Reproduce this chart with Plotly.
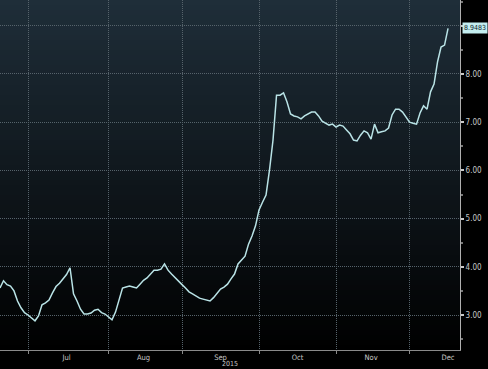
import pandas as pd
import plotly.graph_objects as go

dates = pd.bdate_range("2015-06-19", "2015-12-16")
values = [
    3.56, 3.71, 3.63, 3.60, 3.50, 3.29, 3.15, 3.05, 3.00, 2.94,
    2.88, 2.98, 3.21, 3.25, 3.31, 3.46, 3.59, 3.66, 3.75, 3.84,
    3.98, 3.44, 3.29, 3.12, 3.02, 3.02, 3.04, 3.10, 3.12, 3.05,
    3.02, 2.96, 2.90, 3.06, 3.31, 3.56, 3.58, 3.60, 3.58, 3.56,
    3.64, 3.72, 3.77, 3.85, 3.93, 3.93, 3.95, 4.06, 3.93, 3.85,
    3.77, 3.71, 3.63, 3.56, 3.48, 3.44, 3.39, 3.35, 3.33, 3.31,
    3.29, 3.36, 3.46, 3.54, 3.58, 3.64, 3.75, 3.85, 4.06, 4.14,
    4.22, 4.47, 4.64, 4.85, 5.18, 5.34, 5.49, 6.01, 6.63, 7.56,
    7.56, 7.61, 7.42, 7.17, 7.13, 7.11, 7.07, 7.13, 7.17, 7.21,
    7.21, 7.13, 7.02, 6.98, 6.94, 6.96, 6.90, 6.94, 6.92, 6.84,
    6.76, 6.63, 6.61, 6.73, 6.82, 6.78, 6.65, 6.96, 6.78, 6.80,
    6.82, 6.88, 7.15, 7.27, 7.27, 7.21, 7.11, 7.00, 6.98, 6.96,
    7.19, 7.34, 7.27, 7.63, 7.79, 8.25, 8.56, 8.60, 8.9483,
]
month_starts = ["2015-07-01", "2015-08-03", "2015-09-01", "2015-10-01", "2015-11-02", "2015-12-01"]
month_label_pos = ["2015-07-16", "2015-08-17", "2015-09-16", "2015-10-16", "2015-11-16", "2015-12-16"]
month_labels = ["Jul", "Aug", "Sep", "Oct", "Nov", "Dec"]
y_ticks = [3, 4, 5, 6, 7, 8, 9]
y_labels = ["3.00", "4.00", "5.00", "6.00", "7.00", "8.00", ""]
year_label = "2015"
last_label = "8.9483"

fig = go.Figure()
fig.add_trace(go.Scatter(
    x=dates, y=values, mode="lines",
    line=dict(color="#b9e3e6", width=1.5),
    hoverinfo="skip",
))

# gradient background bands
shapes = []
n = 70
top = (31, 46, 57)
for k in range(n):
    t0 = k / n
    t1 = (k + 1) / n
    tm = (t0 + t1) / 2
    c = tuple(int(round(v * tm)) for v in top)
    shapes.append(dict(
        type="rect", xref="paper", yref="paper", x0=0, x1=1, y0=t0, y1=min(1, t1 + 0.006),
        fillcolor="rgb(%d,%d,%d)" % c, line=dict(width=0), layer="below",
    ))

font = "DejaVu Sans Condensed, DejaVu Sans, sans-serif"
grid_col = "#56636b"
fig.update_layout(
    width=488, height=369,
    margin=dict(l=0, r=28, t=0, b=19, autoexpand=False),
    paper_bgcolor="#000000", plot_bgcolor="#000000",
    showlegend=False,
    shapes=shapes,
    xaxis=dict(
        type="date",
        range=["2015-06-19", "2015-12-21 10:00"],
        rangebreaks=[dict(bounds=["sat", "mon"])],
        tickmode="array", tickvals=month_label_pos, ticktext=month_labels,
        ticks="", showgrid=False, zeroline=False,
        showline=True, linecolor="#8a8a8a", linewidth=1,
        tickfont=dict(family=font, size=7.5, color="#c8c8c8"),
        ticklabelstandoff=0,
        minor=dict(tickmode="array", tickvals=month_starts, showgrid=True,
                   gridcolor=grid_col, griddash="1px,1px", gridwidth=1,
                   ticks="outside", ticklen=3, tickcolor="#8a8a8a"),
    ),
    yaxis=dict(
        side="right", range=[2.274, 9.535],
        tickmode="array", tickvals=y_ticks, ticktext=y_labels,
        showgrid=True, gridcolor=grid_col, griddash="1px,1px", gridwidth=1,
        zeroline=False, showline=True, linecolor="#b0b0b0", linewidth=1,
        ticks="outside", ticklen=3, tickwidth=2, tickcolor="#c8c8c8",
        tickfont=dict(family=font, size=8, color="#c8c8c8"),
        minor=dict(dtick=0.5, tick0=0, ticks="outside", ticklen=2, tickcolor="#777777", showgrid=False),
    ),
    annotations=[
        dict(text=year_label, xref="paper", yref="paper", x=0.5, y=0, yshift=-9,
             xanchor="center", yanchor="top", showarrow=False, borderpad=0,
             font=dict(family=font, size=7, color="#c8c8c8")),
        dict(text=last_label, xref="paper", yref="y", x=1, y=values[-1], xshift=2,
             xanchor="left", yanchor="middle", showarrow=False,
             bgcolor="#c4eef0", borderpad=1,
             font=dict(family=font, size=7, color="#10242a")),
    ],
)
fig.write_html("out.html", config={"displayModeBar": False},
               post_script="document.body.style.margin='0px';document.body.style.overflow='hidden';")
